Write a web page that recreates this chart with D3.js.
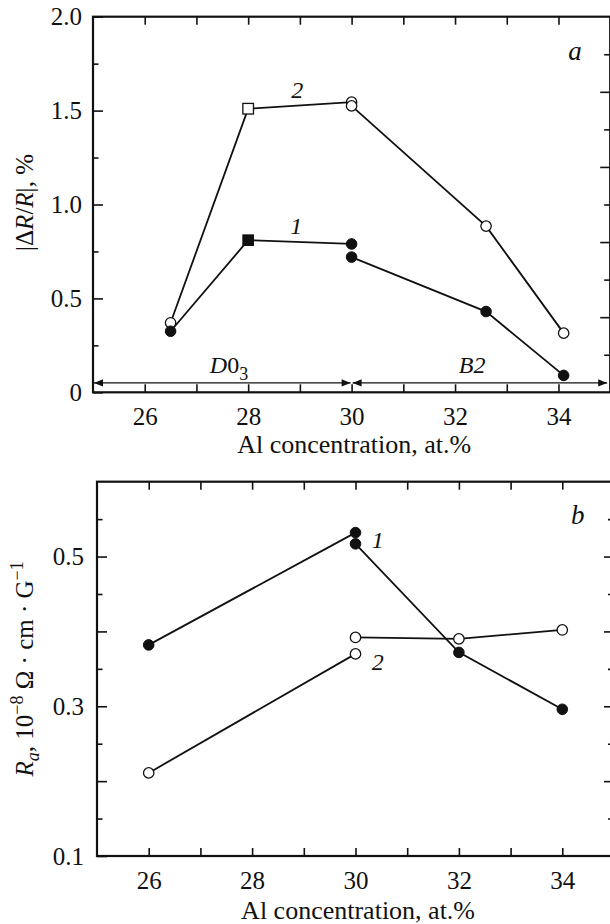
<!DOCTYPE html>
<html>
<head>
<meta charset="utf-8">
<script src="https://cdn.jsdelivr.net/npm/d3@7"></script>
</head>
<body style="margin:0; background:#fff">
<div id="chart"></div>
<script>
// panel a: |dR/R| vs Al concentration
var aX = [26.5, 28, 30, 30, 32.6, 34.1];
var aShape = ["circle", "square", "circle", "circle", "circle", "circle"];
var aCurve1 = [0.325, 0.81, 0.79, 0.72, 0.43, 0.09];
var aCurve2 = [0.37, 1.51, 1.545, 1.525, 0.885, 0.315];
var aYTicks = [0, 0.5, 1.0, 1.5, 2.0];

// panel b: Ra vs Al concentration
var bX = [26, 30, 30, 32, 34];
var bCurve1 = [0.382, 0.532, 0.517, 0.372, 0.296];
var bCurve2 = [0.211, 0.370, 0.392, 0.390, 0.402];
var bYTicks = [0.1, 0.3, 0.5];

var xTickLabels = [26, 28, 30, 32, 34];

var W = 610, H = 924;
var FONT = "Liberation Serif";
var ink = "#111";

var svg = d3.select("#chart").append("svg")
    .attr("width", W).attr("height", H)
    .style("font-family", FONT);

function txt(g, x, y, size) {
    return g.append("text").attr("x", x).attr("y", y)
        .style("font-family", FONT).style("font-size", size + "px").attr("fill", ink);
}

function makePanel(o) {
    var x = d3.scaleLinear().domain([25, 35]).range([o.left, o.right]);
    var y = d3.scaleLinear().domain(o.yDomain).range([o.bottom, o.top]);
    var g = svg.append("g");

    // x ticks, bottom (inward) with labels
    var xb = g.append("g").attr("transform", "translate(0," + o.bottom + ")")
        .call(d3.axisBottom(x).tickValues(d3.range(26, 35)).tickSize(-8).tickPadding(15)
            .tickFormat(function(d) { return xTickLabels.indexOf(d) >= 0 ? d : ""; }));
    // x ticks, top
    var xt = g.append("g").attr("transform", "translate(0," + o.top + ")")
        .call(d3.axisTop(x).tickValues(d3.range(26, 35)).tickSize(-8).tickFormat(""));
    // left ticks
    var yl = g.append("g").attr("transform", "translate(" + o.left + ",0)")
        .call(d3.axisLeft(y).tickValues(o.leftTicks).tickSize(-10).tickPadding(o.pad)
            .tickFormat(function(d) {
                var hit = o.yLabels.filter(function(v) { return Math.abs(v - d) < 1e-6; });
                if (!hit.length) return "";
                return d === 0 ? "0" : d3.format(".1f")(d);
            }));
    yl.selectAll(".tick line").attr("x2", function(d) { return o.isMajor(d) ? 10 : 5.5; });
    // right ticks
    var yr = g.append("g").attr("transform", "translate(" + o.right + ",0)")
        .call(d3.axisRight(y).tickValues(o.rightTicks).tickSize(-10).tickFormat(""));
    yr.selectAll(".tick line").attr("x2", function(d) { return o.isRightLong(d) ? -10 : -6; });

    [xb, xt, yl, yr].forEach(function(a) {
        a.attr("font-family", null).attr("font-size", null);
        a.select(".domain").remove();
        a.selectAll(".tick line").attr("stroke", ink).attr("stroke-width", 1.6);
        a.selectAll("text").style("font-size", "25px").style("font-family", FONT).attr("fill", ink);
    });

    // frame
    g.append("rect")
        .attr("x", o.left).attr("y", o.top)
        .attr("width", o.right - o.left).attr("height", o.bottom - o.top)
        .attr("fill", "none").attr("stroke", ink).attr("stroke-width", 2.2);

    return { x: x, y: y, g: g };
}

function drawCurve(p, xs, ys, breakAt) {
    var line = d3.line().x(function(d) { return p.x(d[0]); }).y(function(d) { return p.y(d[1]); });
    var pts = xs.map(function(v, i) { return [v, ys[i]]; });
    [pts.slice(0, breakAt), pts.slice(breakAt)].forEach(function(seg) {
        p.g.append("path").datum(seg).attr("d", line)
            .attr("fill", "none").attr("stroke", ink).attr("stroke-width", 1.8);
    });
    return pts;
}

function drawMarkers(p, pts, shapes, filled) {
    pts.forEach(function(d, i) {
        var cx = p.x(d[0]), cy = p.y(d[1]);
        var shape = shapes ? shapes[i] : "circle";
        var m;
        if (shape === "square") {
            m = p.g.append("rect").attr("x", cx - 5.3).attr("y", cy - 5.3)
                .attr("width", 10.6).attr("height", 10.6);
        } else {
            m = p.g.append("circle").attr("cx", cx).attr("cy", cy).attr("r", filled ? 5.3 : 5.2);
        }
        m.attr("fill", filled ? ink : "#fff").attr("stroke", ink).attr("stroke-width", filled ? 1 : 1.3);
    });
}

// ---------- panel a ----------
var pa = makePanel({
    left: 93, right: 610.2, top: 16.7, bottom: 392.3, pad: 11,
    yDomain: [0, 2],
    leftTicks: d3.range(0, 2.01, 0.25),
    yLabels: aYTicks,
    isMajor: function(d) { return Math.abs(d * 2 - Math.round(d * 2)) < 1e-6; },
    rightTicks: d3.range(0.2, 1.81, 0.2),
    isRightLong: function(d) { return Math.round(d * 5) % 2 === 0; }
});

// phase region arrows
var arrowY = pa.y(0.05);
function arrowHead(g, xTip, y, dir) {
    g.append("path")
        .attr("d", "M" + xTip + "," + y + "L" + (xTip - dir * 9) + "," + (y - 3.6) +
            "L" + (xTip - dir * 9) + "," + (y + 3.6) + "Z")
        .attr("fill", ink);
}
pa.g.append("line").attr("x1", pa.x(25) + 1).attr("x2", pa.x(30) - 1)
    .attr("y1", arrowY).attr("y2", arrowY).attr("stroke", ink).attr("stroke-width", 1.3);
pa.g.append("line").attr("x1", pa.x(30) + 1).attr("x2", pa.x(35) - 3)
    .attr("y1", arrowY).attr("y2", arrowY).attr("stroke", ink).attr("stroke-width", 1.3);
arrowHead(pa.g, pa.x(25) + 1, arrowY, -1);
arrowHead(pa.g, pa.x(30) - 1, arrowY, 1);
arrowHead(pa.g, pa.x(30) + 1, arrowY, -1);
arrowHead(pa.g, pa.x(35) - 3, arrowY, 1);

var a2 = drawCurve(pa, aX, aCurve2, 3);
var a1 = drawCurve(pa, aX, aCurve1, 3);
drawMarkers(pa, a2, aShape, false);
drawMarkers(pa, a1, aShape, true);

txt(pa.g, pa.x(28.95), pa.y(1.567), 24).attr("font-style", "italic").attr("text-anchor", "middle").text("2");
txt(pa.g, pa.x(28.93), pa.y(0.843), 24).attr("font-style", "italic").attr("text-anchor", "middle").text("1");
txt(pa.g, pa.x(34.32), pa.y(1.77), 27).attr("font-style", "italic").attr("text-anchor", "middle").text("a");

var d03 = txt(pa.g, pa.x(27.63), pa.y(0.1) - 1, 24).attr("text-anchor", "middle");
d03.append("tspan").attr("font-style", "italic").text("D");
d03.append("tspan").text("0");
d03.append("tspan").style("font-size", "18px").attr("dy", 7).text("3");
txt(pa.g, pa.x(32.33), pa.y(0.1) - 1, 24).attr("font-style", "italic")
    .attr("text-anchor", "middle").text("B2");

var ta = txt(svg, 0, 0, 25).attr("text-anchor", "middle")
    .attr("transform", "translate(33," + (pa.y(1.0) - 2) + ") rotate(-90)");
ta.append("tspan").text("|Δ");
ta.append("tspan").attr("font-style", "italic").text("R");
ta.append("tspan").text("/");
ta.append("tspan").attr("font-style", "italic").text("R");
ta.append("tspan").text("|, %");

txt(svg, pa.x(30.05), 453, 26).attr("text-anchor", "middle").text("Al concentration, at.%");

// ---------- panel b ----------
var pb = makePanel({
    left: 97, right: 614, top: 481.7, bottom: 856, pad: 13,
    yDomain: [0.1, 0.6],
    leftTicks: d3.range(0.1, 0.58, 0.05),
    yLabels: bYTicks,
    isMajor: function(d) { return Math.abs(d * 10 - Math.round(d * 10)) < 1e-6; },
    rightTicks: d3.range(0.15, 0.58, 0.05),
    isRightLong: function(d) { return Math.abs(d * 10 - Math.round(d * 10)) < 1e-6; }
});

var b1 = drawCurve(pb, bX, bCurve1, 2);
var b2 = drawCurve(pb, bX, bCurve2, 2);
drawMarkers(pb, b2, null, false);
drawMarkers(pb, b1, null, true);

txt(pb.g, pb.x(30.43), pb.y(0.511), 24).attr("font-style", "italic").attr("text-anchor", "middle").text("1");
txt(pb.g, pb.x(30.43), pb.y(0.348), 24).attr("font-style", "italic").attr("text-anchor", "middle").text("2");
txt(pb.g, pb.x(34.3), pb.y(0.544), 27).attr("font-style", "italic").attr("text-anchor", "middle").text("b");

var tb = txt(svg, 0, 0, 25).attr("text-anchor", "middle")
    .attr("transform", "translate(33," + pb.y(0.35) + ") rotate(-90)");
tb.append("tspan").attr("font-style", "italic").text("R");
tb.append("tspan").attr("font-style", "italic").style("font-size", "18px").attr("dy", 6).text("a");
tb.append("tspan").attr("dy", -6).text(", 10");
tb.append("tspan").style("font-size", "18px").attr("dy", -10).text("−8");
tb.append("tspan").attr("dy", 10).text(" Ω · cm · G");
tb.append("tspan").style("font-size", "18px").attr("dy", -10).text("−1");

txt(svg, pb.x(30.05), 919, 26).attr("text-anchor", "middle").text("Al concentration, at.%");
</script>
</body>
</html>
